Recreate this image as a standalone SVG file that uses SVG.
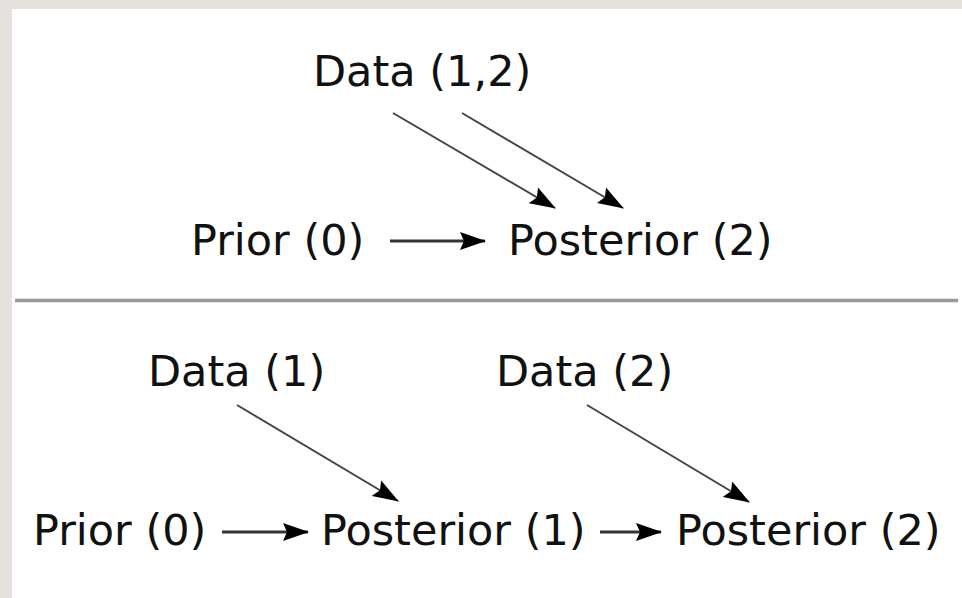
<svg xmlns="http://www.w3.org/2000/svg" width="962" height="598" viewBox="0 0 962 598">
<style>
text{font-family:"DejaVu Sans","Bitstream Vera Sans",sans-serif;font-size:43px;fill:#111}
.h{stroke:#333;stroke-width:3;fill:none;marker-end:url(#ah)}
.d{stroke:#444;stroke-width:2;fill:none;marker-end:url(#ah)}
</style>
<defs>
<marker id="ah" viewBox="0 0 26 20" refX="25" refY="10" markerWidth="26" markerHeight="20" markerUnits="userSpaceOnUse" orient="auto">
<path d="M0,1 L26,10 L0,19 L4,10 Z" fill="#000"/>
</marker>
</defs>
<rect x="0" y="0" width="962" height="598" fill="#e5e2de"/>
<rect x="12" y="9" width="950" height="589" fill="#fff"/>
<line x1="15" y1="300.5" x2="958" y2="300.5" stroke="#999" stroke-width="3.5"/>
<g id="top-data"><text x="313" y="86">Data (1,2)</text></g>
<g id="top-prior"><text x="191" y="255">Prior (0)</text></g>
<g id="top-posterior"><text x="508" y="255">Posterior (2)</text></g>
<g id="bot-data1"><text x="148" y="386">Data (1)</text></g>
<g id="bot-data2"><text x="496" y="386">Data (2)</text></g>
<g id="bot-prior"><text x="33" y="545">Prior (0)</text></g>
<g id="bot-posterior1"><text x="321" y="545">Posterior (1)</text></g>
<g id="bot-posterior2"><text x="676" y="545">Posterior (2)</text></g>
<g id="connectors">
<line class="h" x1="390" y1="241" x2="485" y2="241"/>
<line class="d" x1="393" y1="113" x2="555" y2="208"/>
<line class="d" x1="462" y1="113" x2="623" y2="208"/>
<line class="h" x1="222" y1="532" x2="308" y2="532"/>
<line class="h" x1="600" y1="532" x2="661" y2="532"/>
<line class="d" x1="237" y1="405" x2="398" y2="501"/>
<line class="d" x1="587" y1="405" x2="749" y2="502"/>
</g>
</svg>
